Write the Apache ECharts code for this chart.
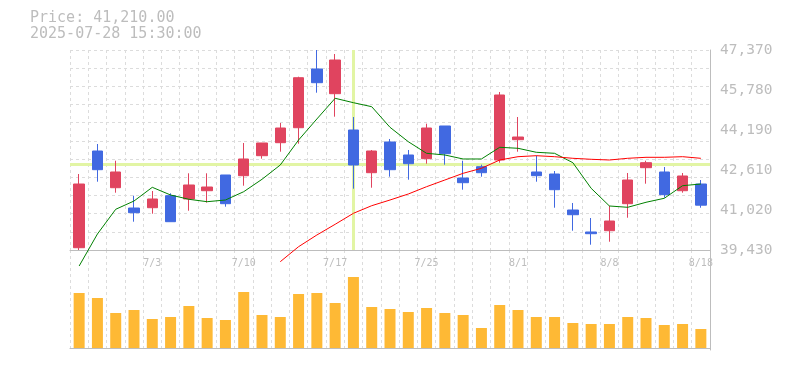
<!DOCTYPE html>
<html>
<head>
<meta charset="utf-8">
<script src="https://cdn.jsdelivr.net/npm/echarts@6/dist/echarts.min.js"></script>
<style>html,body{margin:0;padding:0;background:#fff}#c{width:785px;height:370px}</style>
</head>
<body>
<div id="c"></div>
<script>
const dates = ["6/27","6/30","7/1","7/2","7/3","7/4","7/7","7/8","7/9","7/10","7/11","7/14","7/15","7/16","7/17","7/18","7/22","7/23","7/24","7/25","7/28","7/29","7/30","7/31","8/1","8/4","8/5","8/6","8/7","8/8","8/12","8/13","8/14","8/15","8/18"];
const opens  = [39521,43360,41903,41097,41109,41586,41455,41784,42408,42380,43174,43690,44285,46616,45635,44194,42499,43718,43202,43055,44353,42288,42737,43003,43809,42527,42447,41018,40145,40196,41268,42698,42527,41784,42050];
const closes = [42050,42618,42527,40911,41455,40554,42011,41931,41268,43043,43678,44273,46270,46072,46973,42805,43360,42618,42856,44273,43253,42102,42499,45584,43916,42380,41824,40831,40077,40581,42209,42896,41626,42368,41210];
const lows   = [39430,42142,41705,40554,40871,40554,40990,41308,41149,41983,43055,43333,43650,45675,44722,41864,41903,42340,42221,42856,42817,41824,42340,42896,43333,42142,41109,40196,39640,39759,40712,42062,41507,41705,41109];
const highs  = [42447,43638,42975,41586,41772,41681,42475,42475,42408,43678,43678,44472,46310,47370,47211,44710,43400,43837,43400,44444,44353,42975,42817,45703,44710,43174,42566,41296,40700,41189,42487,42975,42725,42487,42209];
const ma5    = [38795,40065,41046,41375,41919,41614,41443,41348,41415,41745,42237,42805,43797,44631,45453,45278,45119,44301,43730,43269,43202,43043,43043,43507,43468,43309,43269,42896,41880,41177,41125,41324,41483,41983,42050];
const ma25   = [null,null,null,null,null,null,null,null,null,null,null,38966,39561,40025,40450,40887,41189,41415,41653,41943,42209,42475,42674,43003,43134,43174,43134,43070,43031,43003,43070,43110,43110,43134,43070];
const volumes = [55,50,35,38,29,31,42,30,28,56,33,31,54,55,45,71,41,39,36,40,35,33,20,43,38,31,31,25,24,24,31,30,23,24,19];
const yTickLabels = ["39,430","41,020","42,610","44,190","45,780","47,370"];
const priceMin = 39430, priceMax = 47370;
const crossIndex = 15, crossPrice = 42832;
const headerPrice = "Price: 41,210.00";
const headerTime = "2025-07-28 15:30:00";

const candleData = dates.map((d, i) => [opens[i], closes[i], lows[i], highs[i]]);
const FONT = "DejaVu Sans Mono";
const GRID_COLOR = "#dcdcdc";
const AXIS_COLOR = "#bdbdbd";
const TEXT_COLOR = "#bdbdbd";

const chart = echarts.init(document.getElementById('c'), null, {renderer: 'canvas'});
chart.setOption({
  animation: false,
  backgroundColor: '#fff',
  graphic: [
    {type: 'text', left: 30, top: 11, style: {text: headerPrice, font: '15px ' + FONT, fill: TEXT_COLOR}},
    {type: 'text', left: 30, top: 27, style: {text: headerTime, font: '15px ' + FONT, fill: TEXT_COLOR}}
  ],
  grid: [
    {left: 70, top: 50, width: 640, height: 200},
    {left: 70, top: 250, width: 640, height: 100}
  ],
  xAxis: [
    {
      type: 'category', data: dates, gridIndex: 0, boundaryGap: true,
      axisLine: {show: true, lineStyle: {color: AXIS_COLOR, width: 1}},
      axisTick: {show: false},
      axisLabel: {show: true, interval: (i) => i % 5 === 4, color: TEXT_COLOR, fontFamily: FONT, fontSize: 10, margin: 8},
      splitLine: {show: true, interval: 0, lineStyle: {color: GRID_COLOR, type: [3, 3], width: 1}}
    },
    {
      type: 'category', data: dates, gridIndex: 1, boundaryGap: true,
      axisLine: {show: true, lineStyle: {color: AXIS_COLOR, width: 1}},
      axisTick: {show: false},
      axisLabel: {show: false},
      splitLine: {show: true, interval: 0, lineStyle: {color: GRID_COLOR, type: [3, 3], width: 1}}
    }
  ],
  yAxis: [
    {type: 'value', gridIndex: 0, min: priceMin, max: priceMax, show: false, scale: true},
    {
      type: 'value', gridIndex: 0, position: 'right', min: 0, max: 5, interval: 1,
      axisLine: {show: true, lineStyle: {color: AXIS_COLOR, width: 1}},
      axisTick: {show: false},
      splitLine: {show: false},
      axisLabel: {show: true, color: TEXT_COLOR, fontFamily: FONT, fontSize: 14.5, margin: 10,
        padding: [5, 0, 0, 0],
        formatter: (v) => yTickLabels[Math.round(v)]}
    },
    {
      type: 'value', gridIndex: 0, position: 'left', min: 0, max: 11, interval: 1,
      axisLine: {show: false}, axisTick: {show: false}, axisLabel: {show: false},
      splitLine: {show: true, lineStyle: {color: GRID_COLOR, type: [3, 3], width: 1}}
    },
    {
      type: 'value', gridIndex: 1, position: 'right', min: -2, max: 98,
      axisLine: {show: true, lineStyle: {color: AXIS_COLOR, width: 1}},
      axisTick: {show: false}, axisLabel: {show: false}, splitLine: {show: false}
    }
  ],
  series: [
    {
      type: 'line', xAxisIndex: 0, yAxisIndex: 0, data: dates.map(() => null), z: 1, zlevel: 0,
      symbol: 'none', silent: true,
      markLine: {
        silent: true, symbol: ['none', 'none'], animation: false,
        label: {show: false},
        lineStyle: {color: '#e2f5a4', width: 3, type: 'solid'},
        emphasis: {disabled: true},
        data: [{xAxis: crossIndex}, {yAxis: crossPrice}]
      }
    },
    {
      type: 'candlestick', xAxisIndex: 0, yAxisIndex: 0, data: candleData, barWidth: 11, zlevel: 1,
      itemStyle: {color: '#e0445f', color0: '#4169e1', borderColor: '#e0445f', borderColor0: '#4169e1', borderWidth: 1}
    },
    {
      type: 'line', xAxisIndex: 0, yAxisIndex: 0, data: ma5, symbol: 'none', clip: false, zlevel: 1, z: 3,
      lineStyle: {color: '#008000', width: 1}
    },
    {
      type: 'line', xAxisIndex: 0, yAxisIndex: 0, data: ma25, symbol: 'none', clip: false, zlevel: 1, z: 3,
      lineStyle: {color: '#ff0000', width: 1}
    },
    {
      type: 'bar', xAxisIndex: 1, yAxisIndex: 3, data: volumes, barWidth: 11, zlevel: 1,
      itemStyle: {color: '#feb935'}
    }
  ]
});
</script>
</body>
</html>
